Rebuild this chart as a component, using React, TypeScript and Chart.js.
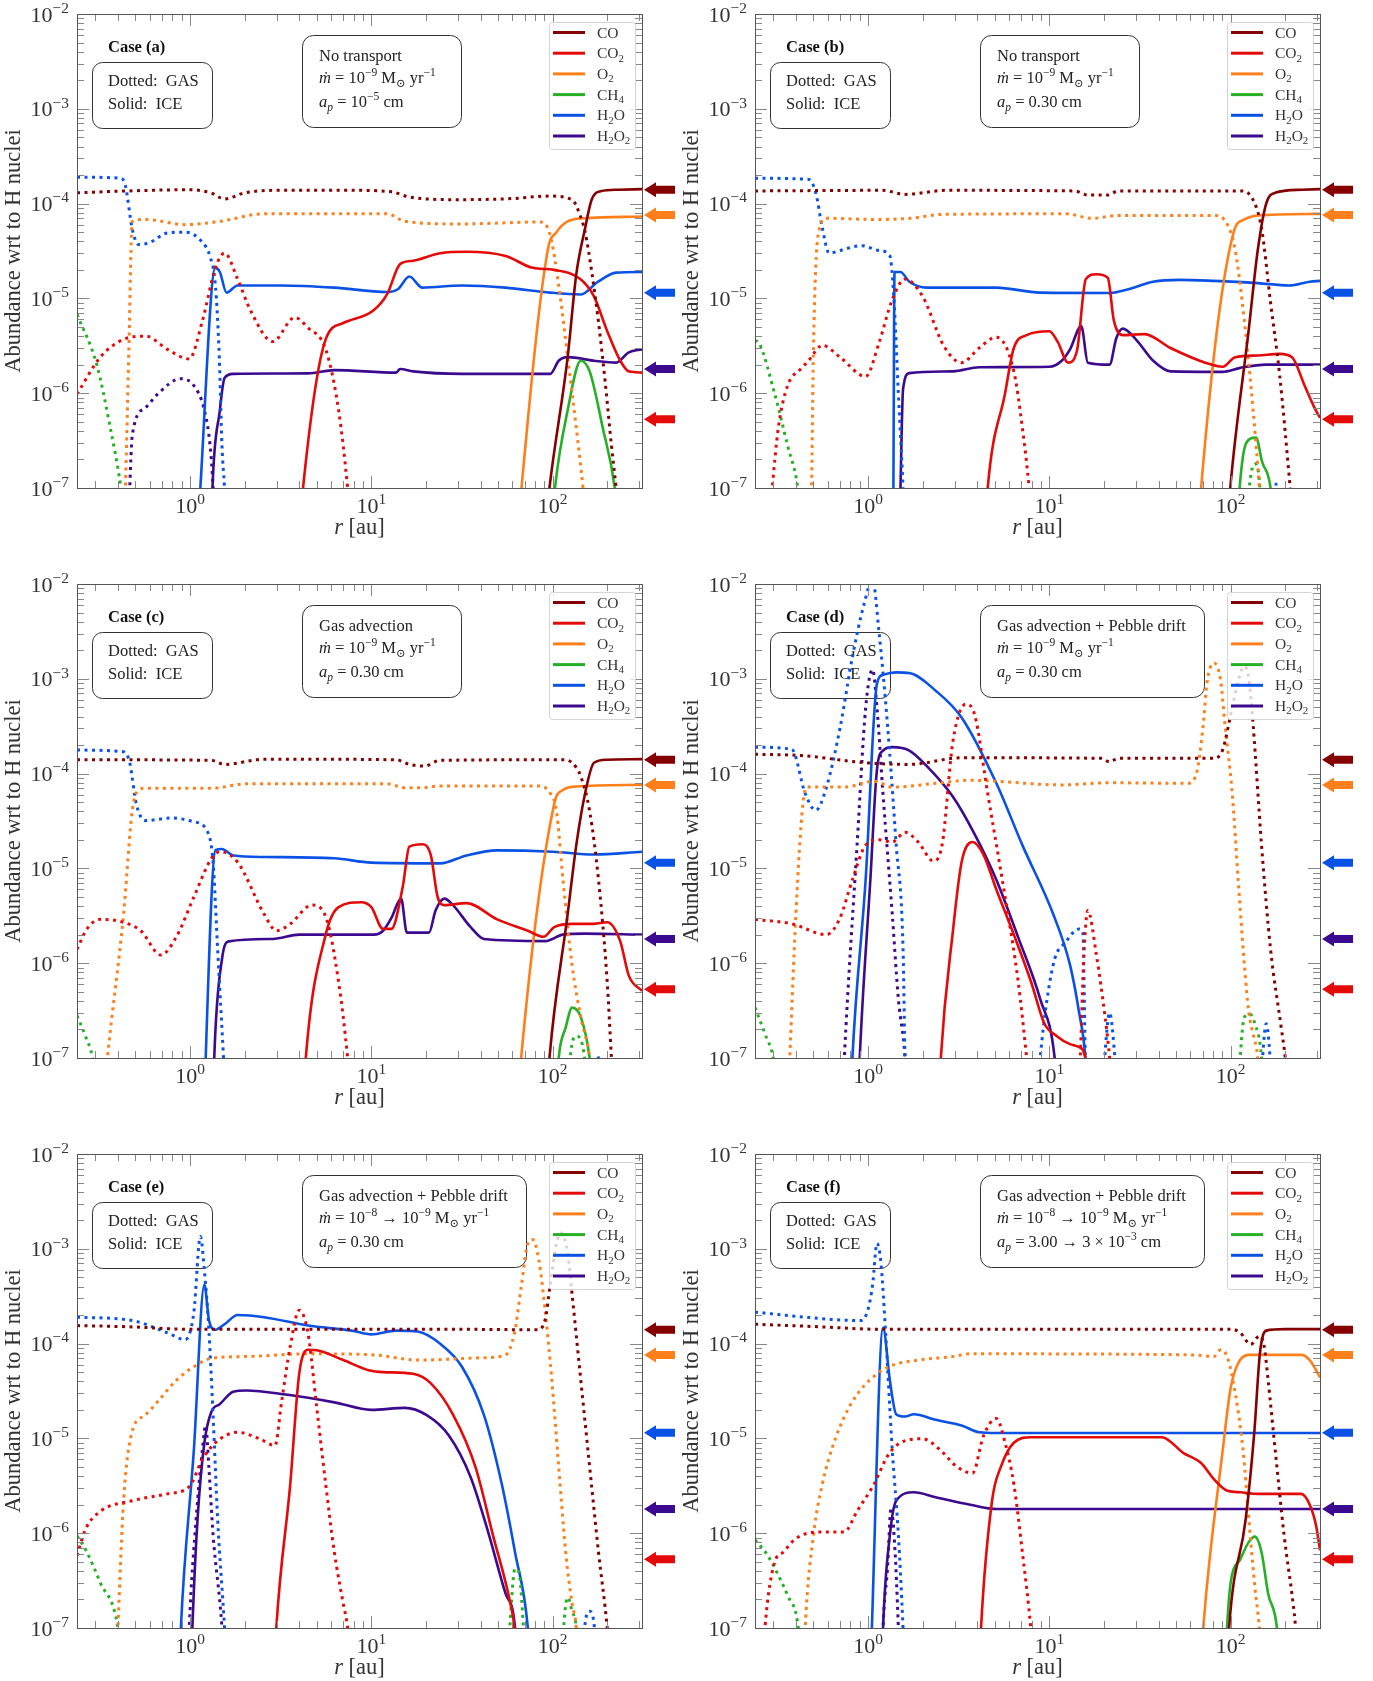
import React, { useEffect, useRef } from 'react';
import { Chart, registerables } from 'chart.js';
Chart.register(...registerables);

type P = [number, number][];
type Seg = [string, string];

const X_MIN = 0.238;
const X_MAX = 311;
const Y_MIN = 1e-7;
const Y_MAX = 1e-2;

const SPECIES = ['CO', 'CO2', 'O2', 'CH4', 'H2O', 'H2O2'];
const COLORS: Record<string, string> = {
  CO: '#850000',
  CO2: '#e40a0a',
  O2: '#ff7f1a',
  CH4: '#26b026',
  H2O: '#0a52e6',
  H2O2: '#3c0a8e',
};
const LEGEND_LABELS: Record<string, Seg[]> = {
  CO: [['CO', '']],
  CO2: [['CO', ''], ['2', '_']],
  O2: [['O', ''], ['2', '_']],
  CH4: [['CH', ''], ['4', '_']],
  H2O: [['H', ''], ['2', '_'], ['O', '']],
  H2O2: [['H', ''], ['2', '_'], ['O', ''], ['2', '_']],
};
// initial abundances (arrows on the right)
const ARROW_SPECIES = ['CO', 'O2', 'H2O', 'H2O2', 'CO2'];
const ARROW_VALUES = [1.4e-4, 7.6e-5, 1.15e-5, 1.8e-6, 5.3e-7];

const X_TICKS = [1, 10, 100];
const X_TICK_EXP = ['0', '1', '2'];
const Y_TICKS = [1e-7, 1e-6, 1e-5, 1e-4, 1e-3, 1e-2];
const Y_TICK_EXP = ['−7', '−6', '−5', '−4', '−3', '−2'];

// ---------------- Case (a) ----------------
const A_CO_GAS: P = [[0.238,1.3e-4],[0.45,1.36e-4],[1.0,1.4e-4],[1.3,1.3e-4],[1.55,1.12e-4],[2.0,1.3e-4],[3,1.38e-4],[8,1.38e-4],[13,1.33e-4],[16,1.18e-4],[30,1.1e-4],[60,1.13e-4],[95,1.2e-4],[128,1.1e-4],[140,8e-5],[151,5e-5],[165,1.8e-5],[179,5.6e-6],[195,1.3e-6],[211,2.8e-7],[224,1e-7],[235,4e-8]];
const A_CO_ICE: P = [[90,3e-8],[96,1e-7],[121,2.4e-6],[135,1.8e-5],[151,5.5e-5],[164,1.1e-4],[184,1.35e-4],[230,1.4e-4],[311,1.42e-4]];
const A_CO2_GAS: P = [[0.238,9.8e-7],[0.32,2.4e-6],[0.43,3.7e-6],[0.57,4e-6],[0.75,2.9e-6],[0.99,2.3e-6],[1.17,5.8e-6],[1.38,2.1e-5],[1.55,3e-5],[1.83,1.6e-5],[2.16,7.4e-6],[2.86,3.5e-6],[3.78,6.3e-6],[4.47,4.9e-6],[5.6,2.9e-6],[6.6,6.6e-7],[7.4,1e-7],[7.8,3e-8]];
const A_CO2_ICE: P = [[4.0,3e-8],[4.2,1e-7],[5.6,3.7e-6],[7,5.5e-6],[10.3,7.5e-6],[12.2,1.1e-5],[14.4,2.3e-5],[17,2.5e-5],[24,3e-5],[33.5,3.1e-5],[55,2.8e-5],[77.6,2.1e-5],[102,2.0e-5],[142,1.6e-5],[169,1.05e-5],[200,4.5e-6],[236,2.2e-6],[263,1.7e-6],[311,1.65e-6]];
const A_O2_GAS: P = [[0.42,1e-8],[0.44,1e-7],[0.46,3e-6],[0.48,6.5e-5],[0.57,6.8e-5],[0.94,6e-5],[1.46,6.5e-5],[2.56,7.8e-5],[12.2,7.8e-5],[15.3,6.5e-5],[31,6.1e-5],[86,6.4e-5],[97,4.6e-5],[108,1.37e-5],[121,2.4e-6],[135,4.3e-7],[147,1e-7],[155,3e-8]];
const A_O2_ICE: P = [[64,3e-8],[67.3,1e-7],[94,3.25e-5],[105,5e-5],[121,6.5e-5],[150,7e-5],[311,7.3e-5]];
const A_CH4_GAS: P = [[0.238,6.8e-6],[0.306,2e-6],[0.36,4.7e-7],[0.416,1e-7],[0.44,4e-8]];
const A_CH4_ICE: P = [[100,5e-8],[103,1e-7],[121,6.6e-7],[143,2.2e-6],[160,1.7e-6],[189,4.3e-7],[220,1e-7],[230,4e-8]];
const A_H2O_GAS: P = [[0.238,1.9e-4],[0.416,1.85e-4],[0.44,1.55e-4],[0.48,5.4e-5],[0.52,3.7e-5],[0.6,3.9e-5],[0.75,4.9e-5],[0.94,5e-5],[1.17,3.9e-5],[1.29,2.75e-5],[1.38,1.37e-5],[1.45,2.4e-6],[1.5,2.8e-7],[1.55,1e-7],[1.6,3e-8]];
const A_H2O_ICE: P = [[1.1,3e-8],[1.14,1e-7],[1.38,2.1e-5],[1.46,1.9e-5],[1.59,1.15e-5],[1.83,1.37e-5],[3.2,1.37e-5],[6.25,1.3e-5],[12.2,1.17e-5],[14,1.25e-5],[16.2,1.7e-5],[19.1,1.3e-5],[31.6,1.37e-5],[55,1.3e-5],[97,1.15e-5],[143,1.1e-5],[178,1.5e-5],[224,1.87e-5],[311,1.9e-5]];
const A_H2O2_GAS: P = [[0.455,3e-8],[0.465,1e-7],[0.48,3.6e-7],[0.566,7e-7],[0.67,1e-6],[0.885,1.42e-6],[1.05,1.2e-6],[1.2,6.6e-7],[1.29,2.8e-7],[1.34,1e-7],[1.37,3e-8]];
const A_H2O2_ICE: P = [[1.31,3e-8],[1.33,1e-7],[1.46,6.6e-7],[1.55,1.45e-6],[1.73,1.6e-6],[4.47,1.62e-6],[6.25,1.75e-6],[13.7,1.65e-6],[14.4,1.8e-6],[17,1.7e-6],[31.6,1.6e-6],[97,1.6e-6],[108,2.2e-6],[121,2.4e-6],[169,2.2e-6],[224,2.1e-6],[263,2.7e-6],[311,2.9e-6]];

// ---------------- Case (b) ----------------
const B_CO_GAS: P = [[0.238,1.36e-4],[1.2,1.38e-4],[1.6,1.25e-4],[2.7,1.38e-4],[13.8,1.36e-4],[16.3,1.23e-4],[21,1.23e-4],[24,1.36e-4],[113,1.36e-4],[131,1.15e-4],[148,5.5e-5],[166,9e-6],[186,1.6e-6],[213,1e-7],[225,3e-8]];
const B_CO_ICE: P = [[95,3e-8],[99.5,1e-7],[126,4.8e-6],[141,3.2e-5],[157,1e-4],[176,1.3e-4],[245,1.4e-4],[311,1.42e-4]];
const B_CO2_GAS: P = [[0.28,3e-8],[0.296,1e-7],[0.32,4.3e-7],[0.36,1.2e-6],[0.425,1.8e-6],[0.47,2.2e-6],[0.56,3.2e-6],[0.7,2.4e-6],[0.97,1.5e-6],[1.15,3.4e-6],[1.36,9.7e-6],[1.6,1.6e-5],[2.0,1.05e-5],[2.63,3.1e-6],[3.28,2.1e-6],[4.1,3e-6],[5.1,3.9e-6],[6.37,1.7e-6],[7.1,4.3e-7],[7.73,1e-7],[8.1,3e-8]];
const B_CO2_ICE: P = [[4.4,3e-8],[4.57,1e-7],[5.7,1e-6],[6.37,3e-6],[7.5,4.1e-6],[10,4.5e-6],[11.1,3.5e-6],[12.7,2.1e-6],[14.2,2.8e-6],[15.9,1.6e-5],[18.2,1.8e-5],[21,1.65e-5],[22.7,5.8e-6],[25.4,4.1e-6],[33.5,4.2e-6],[46.6,3e-6],[72.4,2.1e-6],[90.5,1.9e-6],[106,2.4e-6],[141,2.5e-6],[186,2.6e-6],[218,2.4e-6],[256,1.2e-6],[290,7e-7],[311,5.5e-7]];
const B_O2_GAS: P = [[0.47,3e-8],[0.488,1e-7],[0.5,3e-6],[0.53,4.6e-5],[0.59,7e-5],[1.1,6.8e-5],[1.7,7e-5],[2.6,7.7e-5],[12.4,7.8e-5],[17.2,7e-5],[24,7.5e-5],[81,7.5e-5],[96,6e-5],[106,3.2e-5],[119,5.8e-6],[133,6.6e-7],[144,1e-7],[150,3e-8]];
const B_O2_ICE: P = [[66,3e-8],[68.7,1e-7],[104,5e-5],[119,6.8e-5],[141,7.5e-5],[311,7.8e-5]];
const B_CH4_GAS: P = [[0.238,3.6e-6],[0.25,3.4e-6],[0.305,1e-6],[0.36,2.8e-7],[0.41,1e-7],[0.43,4e-8]];
const B_CH4_GAS_OUTER: P = [[115,1e-8],[128,1.2e-7],[136,1.8e-7],[145,1e-7],[152,1e-8]];
const B_CH4_ICE: P = [[108,3e-8],[112,1e-7],[122,3e-7],[138,3.4e-7],[149,1.9e-7],[166,1e-7],[175,3e-8]];
const B_H2O_GAS: P = [[0.238,1.85e-4],[0.47,1.8e-4],[0.515,1.3e-4],[0.56,5.5e-5],[0.61,3e-5],[0.7,3.2e-5],[0.92,3.6e-5],[1.15,3.2e-5],[1.32,2.8e-5],[1.39,9.7e-6],[1.47,1e-6],[1.56,1e-7],[1.6,3e-8]];
const B_H2O_GAS_OUTER: P = [[170,1e-8],[178,1.1e-7],[186,1e-8]];
const B_H2O_ICE: P = [[1.375,3e-8],[1.38,1e-7],[1.4,1.9e-5],[1.51,1.9e-5],[1.69,1.5e-5],[2.11,1.3e-5],[5.1,1.3e-5],[8.9,1.15e-5],[21.6,1.14e-5],[26.9,1.24e-5],[37.4,1.5e-5],[52,1.57e-5],[81,1.53e-5],[141,1.45e-5],[210,1.37e-5],[273,1.5e-5],[311,1.53e-5]];
const B_H2O2_ICE: P = [[1.49,3e-8],[1.51,1e-7],[1.56,1.1e-6],[1.69,1.63e-6],[2.94,1.7e-6],[4.1,1.88e-6],[10,1.9e-6],[11.7,2.2e-6],[13,2.9e-6],[15,5.1e-6],[16.3,2.1e-6],[21.5,2e-6],[23.4,3.8e-6],[25.4,4.8e-6],[30,3.7e-6],[37.4,2.2e-6],[46.6,1.7e-6],[90,1.68e-6],[113,1.85e-6],[157,2e-6],[311,2e-6]];

// ---------------- Case (c) ----------------
const C_CO_GAS: P = [[0.238,1.4e-4],[1.31,1.38e-4],[1.55,1.25e-4],[2.56,1.42e-4],[13.7,1.4e-4],[16.2,1.25e-4],[19.6,1.2e-4],[23.9,1.38e-4],[114,1.4e-4],[128,1.3e-4],[143,9.3e-5],[160,4e-5],[179,7.6e-6],[200,6.3e-7],[211,1e-7],[220,3e-8]];
const C_CO_ICE: P = [[92,3e-8],[96,1e-7],[121,3.3e-6],[135,1.76e-5],[151,6.2e-5],[169,1.3e-4],[200,1.4e-4],[311,1.42e-4]];
const C_CO2_GAS: P = [[0.238,1.4e-6],[0.27,2.3e-6],[0.32,2.9e-6],[0.43,2.7e-6],[0.535,2.2e-6],[0.69,1.22e-6],[0.836,1.86e-6],[1.05,5e-6],[1.31,1.27e-5],[1.46,1.5e-5],[1.83,1.16e-5],[2.56,3.3e-6],[3.0,2.2e-6],[3.57,2.6e-6],[4.7,4.1e-6],[5.6,3.1e-6],[6.6,6.3e-7],[7.4,1e-7],[7.8,3e-8]];
const C_CO2_ICE: P = [[4.2,3e-8],[4.35,1e-7],[5.6,2e-6],[6.6,3.9e-6],[8.8,4.4e-6],[10,3.9e-6],[11.6,2.3e-6],[12.9,2.3e-6],[14.9,6.4e-6],[16.2,1.7e-5],[19.1,1.8e-5],[21.3,1.37e-5],[23.2,5e-6],[25.3,4.1e-6],[33.5,4.3e-6],[49.4,2.9e-6],[73,2.2e-6],[89,1.9e-6],[102,2.4e-6],[128,2.6e-6],[169,2.6e-6],[200,2.7e-6],[236,1.7e-6],[263,7.4e-7],[311,5.1e-7]];
const C_O2_GAS: P = [[0.33,3e-8],[0.35,1e-7],[0.43,3.3e-6],[0.48,4.07e-5],[0.52,6.7e-5],[0.57,7e-5],[1.31,7e-5],[2.04,7.8e-5],[12.2,7.8e-5],[15.3,7.1e-5],[19.1,7.1e-5],[23.9,7.4e-5],[82,7.4e-5],[97,6.2e-5],[105,4e-5],[114,7.6e-6],[128,9.5e-7],[143,2.7e-7],[160,1e-7],[170,3e-8]];
const C_O2_ICE: P = [[64,3e-8],[67,1e-7],[102,4.8e-5],[114,6.7e-5],[135,7.3e-5],[311,7.6e-5]];
const C_CH4_GAS: P = [[0.238,2.8e-7],[0.265,1.7e-7],[0.29,1e-7],[0.31,4e-8]];
const C_CH4_GAS_OUTER: P = [[118,1e-8],[125,1e-7],[135,1.7e-7],[150,1e-7],[160,1e-8]];
const C_CH4_ICE: P = [[104,3e-8],[108,1e-7],[118,2.1e-7],[128,3.4e-7],[143,2.7e-7],[160,1e-7],[170,3e-8]];
const C_H2O_GAS: P = [[0.238,1.77e-4],[0.43,1.7e-4],[0.465,1.3e-4],[0.505,4.8e-5],[0.566,3.2e-5],[0.79,3.4e-5],[1.05,3.1e-5],[1.24,2.5e-5],[1.34,1.16e-5],[1.42,1.4e-6],[1.53,1e-7],[1.58,3e-8]];
const C_H2O_GAS_OUTER: P = [[170,1e-8],[178,1.05e-7],[186,1e-8]];
const C_H2O_ICE: P = [[1.2,3e-8],[1.22,1e-7],[1.38,1.56e-5],[1.5,1.6e-5],[1.73,1.37e-5],[2.56,1.32e-5],[6.25,1.28e-5],[10,1.15e-5],[24,1.13e-5],[33.5,1.37e-5],[49.4,1.55e-5],[100,1.5e-5],[169,1.4e-5],[311,1.5e-5]];
const C_H2O2_ICE: P = [[1.34,3e-8],[1.36,1e-7],[1.5,1.1e-6],[1.64,1.7e-6],[2.86,1.8e-6],[4,2e-6],[10.3,2e-6],[11.6,2.2e-6],[12.9,3e-6],[14.6,4.8e-6],[15.7,2.1e-6],[20.8,2.1e-6],[22.6,3.6e-6],[25.3,4.8e-6],[28.2,4.1e-6],[35.3,2.4e-6],[41.8,1.8e-6],[91,1.71e-6],[114,2e-6],[151,2.05e-6],[311,2e-6]];

// ---------------- Case (d) ----------------
const D_CO_GAS: P = [[0.238,1.6e-4],[0.43,1.55e-4],[0.97,1.3e-4],[1.69,1.25e-4],[3.28,1.47e-4],[19.3,1.45e-4],[21.5,1.33e-4],[24,1.45e-4],[81,1.45e-4],[90.5,1.8e-4],[102,5e-4],[113,1.14e-3],[119,1.35e-3],[126,1e-3],[133,3.3e-4],[148,1.76e-5],[166,1.4e-6],[190,2.1e-7],[200,1e-7],[210,3e-8]];
const D_CO2_GAS: P = [[0.238,2.9e-6],[0.38,2.6e-6],[0.59,2e-6],[0.7,3e-6],[0.82,7.6e-6],[0.97,1.76e-5],[1.15,2e-5],[1.36,1.9e-5],[1.6,2.4e-5],[1.89,1.9e-5],[2.29,1.2e-5],[2.56,1.76e-5],[2.94,2.2e-4],[3.46,5.4e-4],[3.87,4.2e-4],[4.57,6.2e-5],[5.7,5e-6],[6.74,6.3e-7],[7.5,1e-7],[8,3e-8]];
const D_CO2_GAS_OUTER: P = [[14.2,3e-8],[14.8,1e-7],[15.5,1.2e-6],[16.3,3.6e-6],[18.2,1.2e-6],[20.3,2.7e-7],[21.5,1e-7],[22.5,3e-8]];
const D_CO2_ICE: P = [[2.45,3e-8],[2.52,1e-7],[2.94,2.2e-6],[3.28,1.16e-5],[3.77,1.9e-5],[4.33,1.4e-5],[5.1,6e-6],[6.37,2e-6],[7.94,6.3e-7],[9.4,2.3e-7],[11,1.7e-7],[13,1.4e-7],[14.6,1.3e-7],[15.8,1e-7],[16.5,3e-8]];
const D_O2_GAS: P = [[0.36,3e-8],[0.37,1e-7],[0.4,3.3e-6],[0.437,4.8e-5],[0.46,7.2e-5],[0.74,7.2e-5],[1.08,8.3e-5],[1.36,7.2e-5],[2.36,7.9e-5],[3.66,8.5e-5],[11.7,7.6e-5],[21.5,8e-5],[58,7.9e-5],[64.7,1e-4],[70.6,3.3e-4],[74,9e-4],[81,1.47e-3],[88,9.6e-4],[93,3.3e-4],[102,6.2e-5],[110,7.6e-6],[119,9.6e-7],[126,3e-7],[133,1.8e-7],[141,1e-7],[147,3e-8]];
const D_CH4_GAS: P = [[0.238,3.4e-7],[0.27,1.8e-7],[0.3,1e-7],[0.32,4e-8]];
const D_CH4_GAS_OUTER: P = [[110,3e-8],[113,1e-7],[119,2.7e-7],[128,2.9e-7],[136,2.3e-7],[148,1e-7],[153,3e-8]];
const D_H2O_GAS: P = [[0.238,1.9e-4],[0.38,1.8e-4],[0.45,6.2e-5],[0.515,4.1e-5],[0.59,7.2e-5],[0.7,3e-4],[0.82,1.7e-3],[0.95,6.1e-3],[1.06,1.1e-2],[1.15,3.1e-3],[1.28,3.3e-4],[1.43,1.76e-5],[1.56,1.4e-6],[1.6,1e-7],[1.65,3e-8]];
const D_H2O_GAS_MID: P = [[8.5,3e-8],[8.9,1e-7],[10.5,9.6e-7],[12.4,1.7e-6],[14.6,2.3e-6],[15.3,2.1e-6],[15.8,1e-7],[16.2,3e-8]];
const D_H2O_GAS_MID2: P = [[19.5,3e-8],[20.2,1e-7],[21.5,3e-7],[23,1e-7],[24,3e-8]];
const D_H2O_GAS_OUTER: P = [[145,3e-8],[150,1e-7],[157,2.3e-7],[165,1e-7],[170,3e-8]];
const D_H2O_ICE: P = [[0.8,3e-8],[0.82,1e-7],[0.97,7.6e-6],[1.12,8.9e-4],[1.21,1.1e-3],[1.43,1.17e-3],[1.69,1.15e-3],[2.36,7.5e-4],[3.28,3.9e-4],[5.1,7.9e-5],[7.1,1.76e-5],[10.5,3.3e-6],[13,9.6e-7],[14.6,3e-7],[15.8,1e-7],[16.3,3e-8]];
const D_H2O2_GAS: P = [[0.72,3e-8],[0.74,1e-7],[0.87,1.76e-5],[0.97,4.9e-4],[1.06,1.25e-3],[1.12,5e-4],[1.21,6e-5],[1.36,3.3e-6],[1.47,4.2e-7],[1.6,1e-7],[1.65,3e-8]];
const D_H2O2_ICE: P = [[0.88,3e-8],[0.9,1e-7],[1.03,7.6e-6],[1.12,1.1e-4],[1.21,1.75e-4],[1.36,1.9e-4],[1.69,1.75e-4],[2.11,1.2e-4],[2.94,5.7e-5],[3.87,2.3e-5],[5.1,7.6e-6],[6.74,1.86e-6],[8.9,4.2e-7],[10.7,1e-7],[11.2,3e-8]];

// ---------------- Case (e) ----------------
const E_CO_GAS: P = [[0.238,1.55e-4],[0.48,1.5e-4],[0.94,1.42e-4],[24,1.42e-4],[82,1.4e-4],[91,1.8e-4],[97,4.2e-4],[105,1.14e-3],[111,1.47e-3],[121,9e-4],[128,3.3e-4],[143,4.07e-5],[160,5e-6],[179,6.3e-7],[200,1e-7],[210,3e-8]];
const E_CO2_GAS: P = [[0.238,5.8e-7],[0.265,1.1e-6],[0.32,1.7e-6],[0.48,2.2e-6],[0.75,2.6e-6],[0.99,3.1e-6],[1.17,6e-6],[1.38,9e-6],[1.83,1.16e-5],[2.42,9.9e-6],[2.94,8.4e-6],[3.2,2.45e-5],[3.57,9.4e-5],[4.0,2.25e-4],[4.47,1.3e-4],[5.0,2.1e-5],[5.6,3.3e-6],[6.25,6.3e-7],[7.0,1.8e-7],[7.4,1e-7],[7.8,3e-8]];
const E_CO2_ICE: P = [[2.9,3e-8],[2.99,1e-7],[3.57,3.3e-6],[4.0,4.8e-5],[4.47,8.6e-5],[5,8.5e-5],[7,6.7e-5],[9.8,5.2e-5],[11.6,5e-5],[17,4.8e-5],[21.3,3.8e-5],[28.3,1.76e-5],[37.5,5e-6],[46.8,9.6e-7],[58.5,1.8e-7],[61.6,1e-7],[64,3e-8]];
const E_O2_GAS: P = [[0.39,3e-8],[0.4,1e-7],[0.43,2.2e-6],[0.478,1.16e-5],[0.566,1.76e-5],[0.67,2.5e-5],[0.836,4.07e-5],[1.05,5.7e-5],[1.31,7e-5],[2.04,7.3e-5],[4.47,7.8e-5],[10.3,7.6e-5],[18.1,6.7e-5],[41.8,7.1e-5],[55,7.6e-5],[61.6,1.3e-4],[67,3.9e-4],[73,1.14e-3],[77.5,1.25e-3],[84,7.5e-4],[91,2.2e-4],[99,4.07e-5],[108,5e-6],[118,6.3e-7],[128,1.8e-7],[135,1e-7],[140,3e-8]];
const E_CH4_GAS: P = [[0.238,9.4e-7],[0.27,6.3e-7],[0.32,3e-7],[0.4,1e-7],[0.42,4e-8]];
const E_CH4_GAS_MID: P = [[56,3e-8],[58,1e-7],[62,4.2e-7],[65,3.9e-7],[69,1e-7],[71,3e-8]];
const E_CH4_GAS_OUTER: P = [[112,3e-8],[115,1e-7],[121,2.1e-7],[128,1.5e-7],[135,1e-7],[140,3e-8]];
const E_H2O_GAS: P = [[0.238,1.9e-4],[0.48,1.75e-4],[0.75,1.3e-4],[0.94,1.1e-4],[1.05,2.15e-4],[1.14,1.35e-3],[1.2,5.9e-4],[1.27,1.4e-4],[1.34,1.76e-5],[1.42,1.4e-6],[1.55,1e-7],[1.6,3e-8]];
const E_H2O_GAS_OUTER: P = [[145,3e-8],[150,1e-7],[160,1.5e-7],[170,1e-7],[175,3e-8]];
const E_H2O_ICE: P = [[0.87,3e-8],[0.89,1e-7],[1.05,7.6e-6],[1.2,4.2e-4],[1.27,1.8e-4],[1.38,1.4e-4],[1.55,1.6e-4],[1.83,2e-4],[2.56,1.9e-4],[4.47,1.55e-4],[7.8,1.37e-4],[10,1.25e-4],[13.7,1.37e-4],[18,1.34e-4],[23.9,1e-4],[31.6,5.7e-5],[41.8,1.76e-5],[52.4,3.3e-6],[62,6.3e-7],[73,1e-7],[76,3e-8]];
const E_H2O2_GAS: P = [[0.97,3e-8],[0.99,1e-7],[1.08,1.4e-6],[1.17,7.6e-6],[1.22,1.37e-5],[1.27,5e-6],[1.34,9.6e-7],[1.5,1e-7],[1.55,3e-8]];
const E_H2O2_ICE: P = [[1.01,3e-8],[1.03,1e-7],[1.1,1.4e-6],[1.2,9e-6],[1.31,1.9e-5],[1.46,2.3e-5],[1.73,3.1e-5],[2.04,3.2e-5],[3.38,2.9e-5],[6.25,2.4e-5],[10,2e-5],[15.3,2.1e-5],[20.2,1.76e-5],[26.7,1.08e-5],[35.3,3.9e-6],[44,1.04e-6],[55,2.3e-7],[62,1e-7],[64,3e-8]];

// ---------------- Case (f) ----------------
const F_CO_GAS: P = [[0.238,1.6e-4],[0.56,1.5e-4],[1.08,1.42e-4],[101,1.42e-4],[113,1.3e-4],[129,9.8e-5],[144,1.2e-4],[153,9.4e-5],[161,4.07e-5],[176,7.6e-6],[197,9.6e-7],[221,1.8e-7],[228,1e-7],[235,3e-8]];
const F_CO_ICE: P = [[95,3e-8],[98,1e-7],[121,1.4e-6],[135,1.16e-5],[145,7.9e-5],[157,1.37e-4],[200,1.42e-4],[311,1.42e-4]];
const F_CO2_GAS: P = [[0.26,3e-8],[0.27,1e-7],[0.305,4.9e-7],[0.34,6.3e-7],[0.4,8.8e-7],[0.53,1.03e-6],[0.74,1.03e-6],[0.87,1.71e-6],[1.08,3.3e-6],[1.28,6.5e-6],[1.51,9e-6],[2.0,9.9e-6],[2.49,7.6e-6],[3.1,5e-6],[3.77,4.3e-6],[4.33,1.06e-5],[5.1,1.62e-5],[5.7,9e-6],[6.37,3.3e-6],[7.1,6.3e-7],[7.9,1e-7],[8.3,3e-8]];
const F_CO2_ICE: P = [[4.1,3e-8],[4.2,1e-7],[4.83,2.2e-6],[5.4,5e-6],[6.37,9e-6],[7.94,1.03e-5],[41.7,1.03e-5],[55,7e-6],[68.7,5.5e-6],[81,3.7e-6],[96,2.8e-6],[113,2.7e-6],[141,2.6e-6],[245,2.6e-6],[273,2e-6],[296,1.2e-6],[311,6.6e-7]];
const F_O2_GAS: P = [[0.44,3e-8],[0.45,1e-7],[0.5,9.6e-7],[0.56,3.3e-6],[0.66,9.9e-6],[0.82,2.45e-5],[1.09,4.6e-5],[1.36,5.9e-5],[1.89,6.7e-5],[2.94,7.3e-5],[3.66,7.8e-5],[61.6,7.6e-5],[81,7.3e-5],[88,8.6e-5],[95,7.5e-5],[103,4.07e-5],[117,7.6e-6],[126,1.4e-6],[136,2.7e-7],[144,1e-7],[150,3e-8]];
const F_O2_ICE: P = [[68,3e-8],[70.6,1e-7],[90.5,7.6e-6],[100,3.4e-5],[110,6.2e-5],[126,7.6e-5],[245,7.6e-5],[273,6.7e-5],[311,4.4e-5]];
const F_CH4_GAS: P = [[0.238,8.5e-7],[0.28,5.8e-7],[0.32,3.6e-7],[0.36,2.2e-7],[0.41,1.1e-7],[0.43,4e-8]];
const F_CH4_ICE: P = [[93,3e-8],[95.5,1e-7],[100,3e-7],[113,5.3e-7],[126,8.1e-7],[136,9.2e-7],[148,6.3e-7],[161,2.3e-7],[180,1e-7],[188,3e-8]];
const F_H2O_GAS: P = [[0.238,2.15e-4],[0.45,1.9e-4],[0.625,1.8e-4],[0.92,1.75e-4],[1.0,2.3e-4],[1.06,4.2e-4],[1.12,1.14e-3],[1.18,6.9e-4],[1.25,1.3e-4],[1.36,7.6e-6],[1.47,9.6e-7],[1.56,1e-7],[1.6,3e-8]];
const F_H2O_ICE: P = [[1.03,3e-8],[1.05,1e-7],[1.21,1.47e-4],[1.32,4.07e-5],[1.43,1.8e-5],[1.6,1.7e-5],[1.79,1.8e-5],[2.36,1.57e-5],[3.28,1.37e-5],[4.1,1.16e-5],[5.1,1.14e-5],[311,1.14e-5]];
const F_H2O2_GAS: P = [[1.19,3e-8],[1.21,1e-7],[1.28,4.2e-7],[1.34,1.86e-6],[1.4,8e-7],[1.47,1e-7],[1.5,3e-8]];
const F_H2O2_ICE: P = [[1.19,3e-8],[1.21,1e-7],[1.32,9.6e-7],[1.43,2.2e-6],[1.79,2.7e-6],[2.36,2.4e-6],[3.66,2e-6],[5.1,1.8e-6],[311,1.8e-6]];

// ---------------- text annotations ----------------
const MDOT_9: Seg[] = [['ṁ', 'i'], [' = 10', ''], ['−9', '^'], [' M', ''], ['⊙', '_'], [' yr', ''], ['−1', '^']];
const MDOT_8_9: Seg[] = [['ṁ', 'i'], [' = 10', ''], ['−8', '^'], [' → 10', ''], ['−9', '^'], [' M', ''], ['⊙', '_'], [' yr', ''], ['−1', '^']];
const AP_1E5: Seg[] = [['a', 'i'], ['p', '_i'], [' = 10', ''], ['−5', '^'], [' cm', '']];
const AP_030: Seg[] = [['a', 'i'], ['p', '_i'], [' = 0.30 cm', '']];
const AP_3_TO: Seg[] = [['a', 'i'], ['p', '_i'], [' = 3.00 → 3 × 10', ''], ['−3', '^'], [' cm', '']];

type Series = { sp: string; gas: boolean; pts: P };
type PanelDef = { id: string; caseLabel: string; info: Seg[][]; wide: boolean; series: Series[] };

const g = (sp: string, pts: P): Series => ({ sp, gas: true, pts });
const s = (sp: string, pts: P): Series => ({ sp, gas: false, pts });

const PANELS: PanelDef[] = [
  {
    id: 'a', caseLabel: 'Case (a)', wide: false,
    info: [[['No transport', '']], MDOT_9, AP_1E5],
    series: [
      g('CO', A_CO_GAS), s('CO', A_CO_ICE), g('CO2', A_CO2_GAS), s('CO2', A_CO2_ICE),
      g('O2', A_O2_GAS), s('O2', A_O2_ICE), g('CH4', A_CH4_GAS), s('CH4', A_CH4_ICE),
      g('H2O', A_H2O_GAS), s('H2O', A_H2O_ICE), g('H2O2', A_H2O2_GAS), s('H2O2', A_H2O2_ICE),
    ],
  },
  {
    id: 'b', caseLabel: 'Case (b)', wide: false,
    info: [[['No transport', '']], MDOT_9, AP_030],
    series: [
      g('CO', B_CO_GAS), s('CO', B_CO_ICE), g('CO2', B_CO2_GAS), s('CO2', B_CO2_ICE),
      g('O2', B_O2_GAS), s('O2', B_O2_ICE), g('CH4', B_CH4_GAS), g('CH4', B_CH4_GAS_OUTER), s('CH4', B_CH4_ICE),
      g('H2O', B_H2O_GAS), g('H2O', B_H2O_GAS_OUTER), s('H2O', B_H2O_ICE), s('H2O2', B_H2O2_ICE),
    ],
  },
  {
    id: 'c', caseLabel: 'Case (c)', wide: false,
    info: [[['Gas advection', '']], MDOT_9, AP_030],
    series: [
      g('CO', C_CO_GAS), s('CO', C_CO_ICE), g('CO2', C_CO2_GAS), s('CO2', C_CO2_ICE),
      g('O2', C_O2_GAS), s('O2', C_O2_ICE), g('CH4', C_CH4_GAS), g('CH4', C_CH4_GAS_OUTER), s('CH4', C_CH4_ICE),
      g('H2O', C_H2O_GAS), g('H2O', C_H2O_GAS_OUTER), s('H2O', C_H2O_ICE), s('H2O2', C_H2O2_ICE),
    ],
  },
  {
    id: 'd', caseLabel: 'Case (d)', wide: true,
    info: [[['Gas advection + Pebble drift', '']], MDOT_9, AP_030],
    series: [
      g('CO', D_CO_GAS), g('CO2', D_CO2_GAS), g('CO2', D_CO2_GAS_OUTER), s('CO2', D_CO2_ICE),
      g('O2', D_O2_GAS), g('CH4', D_CH4_GAS), g('CH4', D_CH4_GAS_OUTER),
      g('H2O', D_H2O_GAS), g('H2O', D_H2O_GAS_MID), g('H2O', D_H2O_GAS_MID2), g('H2O', D_H2O_GAS_OUTER), s('H2O', D_H2O_ICE),
      g('H2O2', D_H2O2_GAS), s('H2O2', D_H2O2_ICE),
    ],
  },
  {
    id: 'e', caseLabel: 'Case (e)', wide: true,
    info: [[['Gas advection + Pebble drift', '']], MDOT_8_9, AP_030],
    series: [
      g('CO', E_CO_GAS), g('CO2', E_CO2_GAS), s('CO2', E_CO2_ICE), g('O2', E_O2_GAS),
      g('CH4', E_CH4_GAS), g('CH4', E_CH4_GAS_MID), g('CH4', E_CH4_GAS_OUTER),
      g('H2O', E_H2O_GAS), g('H2O', E_H2O_GAS_OUTER), s('H2O', E_H2O_ICE),
      g('H2O2', E_H2O2_GAS), s('H2O2', E_H2O2_ICE),
    ],
  },
  {
    id: 'f', caseLabel: 'Case (f)', wide: true,
    info: [[['Gas advection + Pebble drift', '']], MDOT_8_9, AP_3_TO],
    series: [
      g('CO', F_CO_GAS), s('CO', F_CO_ICE), g('CO2', F_CO2_GAS), s('CO2', F_CO2_ICE),
      g('O2', F_O2_GAS), s('O2', F_O2_ICE), g('CH4', F_CH4_GAS), s('CH4', F_CH4_ICE),
      g('H2O', F_H2O_GAS), s('H2O', F_H2O_ICE), g('H2O2', F_H2O2_GAS), s('H2O2', F_H2O2_ICE),
    ],
  },
];

// ---------------- drawing helpers ----------------
const SERIF = "'Liberation Serif', 'DejaVu Serif', serif";
const CANVAS_W = 678;
const CANVAS_H = 570;
const PAD_TOP = 14;
const PAD_RIGHT = 36;
const Y_AXIS_W = 77;
const X_AXIS_H = 82;

function segFont(style: string, size: number): { font: string; dy: number } {
  const small = Math.round(size * 0.7 * 10) / 10;
  switch (style) {
    case 'i': return { font: `italic ${size}px ${SERIF}`, dy: 0 };
    case 'b': return { font: `bold ${size}px ${SERIF}`, dy: 0 };
    case '^': return { font: `${small}px ${SERIF}`, dy: -size * 0.4 };
    case '_': return { font: `${small}px ${SERIF}`, dy: size * 0.22 };
    case '_i': return { font: `italic ${small}px ${SERIF}`, dy: size * 0.22 };
    default: return { font: `${size}px ${SERIF}`, dy: 0 };
  }
}

function drawRich(ctx: CanvasRenderingContext2D, segs: Seg[], x: number, y: number, size: number, align: 'left' | 'center' | 'right', color = '#222') {
  ctx.save();
  ctx.textBaseline = 'alphabetic';
  ctx.textAlign = 'left';
  ctx.fillStyle = color;
  const widths = segs.map(([t, st]) => { ctx.font = segFont(st, size).font; return ctx.measureText(t).width; });
  const total = widths.reduce((a, b) => a + b, 0);
  let cx = align === 'center' ? x - total / 2 : align === 'right' ? x - total : x;
  segs.forEach(([t, st], i) => {
    const f = segFont(st, size);
    ctx.font = f.font;
    ctx.fillText(t, cx, y + f.dy);
    cx += widths[i];
  });
  ctx.restore();
}

function roundRect(ctx: CanvasRenderingContext2D, x: number, y: number, w: number, h: number, r: number) {
  ctx.beginPath();
  ctx.moveTo(x + r, y);
  ctx.lineTo(x + w - r, y);
  ctx.arcTo(x + w, y, x + w, y + r, r);
  ctx.lineTo(x + w, y + h - r);
  ctx.arcTo(x + w, y + h, x + w - r, y + h, r);
  ctx.lineTo(x + r, y + h);
  ctx.arcTo(x, y + h, x, y + h - r, r);
  ctx.lineTo(x, y + r);
  ctx.arcTo(x, y, x + r, y, r);
  ctx.closePath();
}

function makePlugin(panel: PanelDef) {
  return {
    id: 'decor' + panel.id,
    beforeDatasetsDraw(chart: any) {
      const ctx: CanvasRenderingContext2D = chart.ctx;
      const a = chart.chartArea;
      ctx.save();
      // Case label
      drawRich(ctx, [[panel.caseLabel, 'b']], a.left + 31, a.top + 38, 16.5, 'left', '#111');
      // Dotted / Solid box
      ctx.strokeStyle = '#333';
      ctx.lineWidth = 1;
      roundRect(ctx, a.left + 15.5, a.top + 48.5, 120, 66, 10);
      ctx.stroke();
      drawRich(ctx, [['Dotted:  GAS', '']], a.left + 31, a.top + 72, 16.5, 'left');
      drawRich(ctx, [['Solid:  ICE', '']], a.left + 31, a.top + 95, 16.5, 'left');
      // info box
      const w2 = panel.wide ? 224 : 159;
      roundRect(ctx, a.left + 225.5, a.top + 21.5, w2, 92, 11);
      ctx.stroke();
      const bases = [47, 69, 93];
      panel.info.forEach((line, i) => drawRich(ctx, line, a.left + 242, a.top + bases[i], 16.5, 'left'));
      ctx.restore();
    },
    afterDatasetsDraw(chart: any) {
      const ctx: CanvasRenderingContext2D = chart.ctx;
      const a = chart.chartArea;
      const xs = chart.scales.x;
      const ys = chart.scales.y;
      ctx.save();
      // ticks (inward, all four sides)
      ctx.strokeStyle = '#888';
      ctx.lineWidth = 1;
      ctx.beginPath();
      for (let d = -1; d <= 2; d++) {
        for (let m = 1; m <= 9; m++) {
          const v = m * Math.pow(10, d);
          if (v < X_MIN || v > X_MAX) continue;
          const px = Math.round(xs.getPixelForValue(v)) + 0.5;
          const len = m === 1 ? 12 : 7;
          ctx.moveTo(px, a.bottom); ctx.lineTo(px, a.bottom - len);
          ctx.moveTo(px, a.top); ctx.lineTo(px, a.top + len);
        }
      }
      for (let d = -7; d <= -2; d++) {
        for (let m = 1; m <= 9; m++) {
          const v = m * Math.pow(10, d);
          if (v < Y_MIN * 0.999 || v > Y_MAX * 1.001) continue;
          const py = Math.round(ys.getPixelForValue(v)) + 0.5;
          const len = m === 1 ? 12 : 7;
          ctx.moveTo(a.left, py); ctx.lineTo(a.left + len, py);
          ctx.moveTo(a.right, py); ctx.lineTo(a.right - len, py);
        }
      }
      ctx.stroke();
      // frame
      ctx.strokeStyle = '#555';
      ctx.strokeRect(Math.round(a.left) + 0.5, Math.round(a.top) + 0.5, Math.round(a.right - a.left), Math.round(a.bottom - a.top));

      // tick labels
      X_TICKS.forEach((v, i) => {
        const px = xs.getPixelForValue(v);
        drawRich(ctx, [['10', ''], [X_TICK_EXP[i], '^']], px, a.bottom + 25, 22, 'center', '#333');
      });
      Y_TICKS.forEach((v, i) => {
        const py = ys.getPixelForValue(v);
        drawRich(ctx, [['10', ''], [Y_TICK_EXP[i], '^']], a.left - 8, py + 7.5, 22, 'right', '#333');
      });
      // axis titles
      drawRich(ctx, [['r', 'i'], [' [au]', '']], (a.left + a.right) / 2, a.bottom + 46, 22.5, 'center', '#333');
      ctx.save();
      ctx.translate(a.left - 57, (a.top + a.bottom) / 2);
      ctx.rotate(-Math.PI / 2);
      drawRich(ctx, [['Abundance wrt to H nuclei', '']], 0, 0, 22.5, 'center', '#333');
      ctx.restore();

      // legend
      const lx = a.right - 93;
      const ly = a.top + 8;
      ctx.fillStyle = 'rgba(255,255,255,0.8)';
      ctx.strokeStyle = '#d4d4d4';
      roundRect(ctx, lx + 0.5, ly + 0.5, 86, 127, 3);
      ctx.fill();
      ctx.stroke();
      SPECIES.forEach((sp, i) => {
        const yy = a.top + 18.5 + i * 20.7;
        ctx.strokeStyle = COLORS[sp];
        ctx.lineWidth = 3;
        ctx.beginPath();
        ctx.moveTo(a.right - 89, yy);
        ctx.lineTo(a.right - 57, yy);
        ctx.stroke();
        drawRich(ctx, LEGEND_LABELS[sp], a.right - 45, yy + 5, 15.5, 'left', '#333');
      });

      // arrows for initial abundances
      ARROW_SPECIES.forEach((sp, i) => {
        const py = ys.getPixelForValue(ARROW_VALUES[i]);
        const tip = a.right + 2;
        ctx.fillStyle = COLORS[sp];
        ctx.beginPath();
        ctx.moveTo(tip, py);
        ctx.lineTo(tip + 12, py - 7.5);
        ctx.lineTo(tip + 12, py - 4);
        ctx.lineTo(tip + 31, py - 4);
        ctx.lineTo(tip + 31, py + 4);
        ctx.lineTo(tip + 12, py + 4);
        ctx.lineTo(tip + 12, py + 7.5);
        ctx.closePath();
        ctx.fill();
      });
      ctx.restore();
    },
  };
}

function buildConfig(panel: PanelDef): any {
  return {
    type: 'line',
    data: {
      datasets: panel.series.map((sr) => ({
        label: sr.sp + (sr.gas ? ' gas' : ' ice'),
        data: sr.pts.map(([x, y]) => ({ x, y })),
        borderColor: COLORS[sr.sp],
        borderWidth: sr.gas ? 3 : 2.6,
        borderDash: sr.gas ? [3, 4.5] : [],
        borderCapStyle: 'butt',
        borderJoinStyle: 'round',
        pointRadius: 0,
        fill: false,
        cubicInterpolationMode: 'monotone',
      })),
    },
    options: {
      responsive: false,
      animation: false,
      events: [],
      layout: { padding: { left: 0, top: PAD_TOP, right: PAD_RIGHT, bottom: 0 } },
      plugins: { legend: { display: false }, tooltip: { enabled: false } },
      scales: {
        x: {
          type: 'logarithmic', min: X_MIN, max: X_MAX,
          grid: { display: false }, border: { display: false },
          ticks: { display: false },
          afterFit: (sc: any) => { sc.height = X_AXIS_H; },
        },
        y: {
          type: 'logarithmic', min: Y_MIN, max: Y_MAX,
          grid: { display: false }, border: { display: false },
          ticks: { display: false },
          afterFit: (sc: any) => { sc.width = Y_AXIS_W; },
        },
      },
    },
    plugins: [makePlugin(panel)],
  };
}

function Panel({ panel, left, top }: { panel: PanelDef; left: number; top: number }) {
  const ref = useRef<HTMLCanvasElement>(null);
  useEffect(() => {
    const chart = new Chart(ref.current as HTMLCanvasElement, buildConfig(panel));
    return () => chart.destroy();
  }, [panel]);
  return (
    <canvas
      ref={ref}
      width={CANVAS_W}
      height={CANVAS_H}
      style={{ position: 'absolute', left, top, width: CANVAS_W, height: CANVAS_H }}
    />
  );
}

export default function App() {
  return (
    <div style={{ position: 'absolute', left: 0, top: 0, width: 1373, height: 1681, background: '#ffffff', overflow: 'hidden' }}>
      {PANELS.map((p, i) => (
        <Panel key={p.id} panel={p} left={(i % 2) * CANVAS_W} top={Math.floor(i / 2) * CANVAS_H} />
      ))}
    </div>
  );
}
